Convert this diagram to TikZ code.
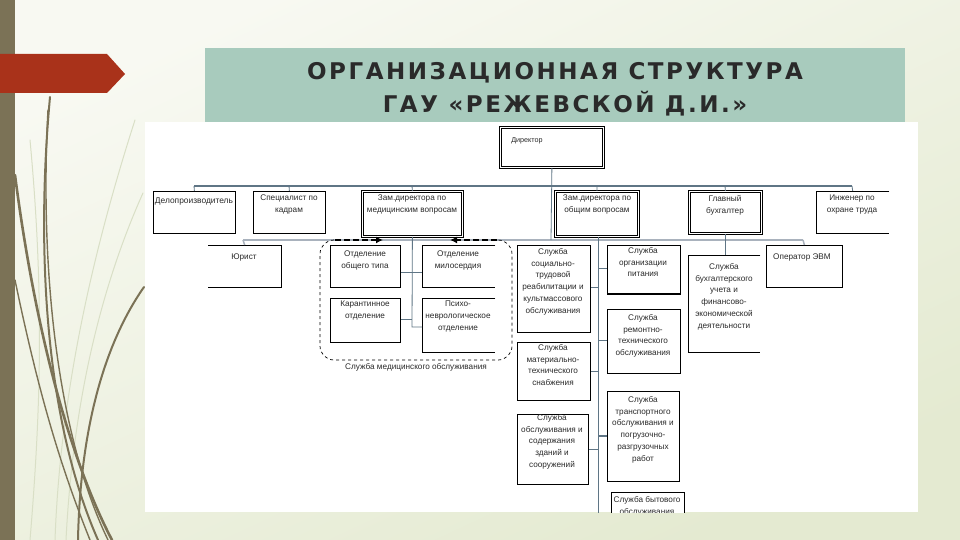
\documentclass[tikz,border=0pt]{standalone}
\usepackage{fontspec}
\setmainfont{Liberation Sans}
\newfontfamily\titlefont[LetterSpace=11]{DejaVu Sans}
\usetikzlibrary{arrows.meta}
\definecolor{bgtop}{HTML}{F8F9F2}
\definecolor{bgbot}{HTML}{E4EAD1}
\definecolor{barcol}{HTML}{7B7256}
\definecolor{redarrow}{HTML}{A9321A}
\definecolor{titlebg}{HTML}{A8CBBD}
\definecolor{busone}{HTML}{5F7585}
\definecolor{bustwo}{HTML}{A9B2BD}
\definecolor{paleline}{HTML}{D9DFC6}
\definecolor{txtcol}{HTML}{2A2A2A}
\tikzset{
  boxst/.style={draw=black, line width=0.8pt, fill=white, inner sep=0pt, anchor=north west},
  openbox/.style={fill=white, inner sep=0pt, anchor=north west},
  dblbox/.style={draw=black, double=white, double distance=1.3pt, line width=0.8pt, fill=white, inner sep=0pt, anchor=north west},
  txt/.style={font=\fontsize{8.2}{11.8}\selectfont, align=center, inner sep=0pt, text=txtcol, anchor=north},
  conn/.style={draw=busone, line width=0.8pt},
  busa/.style={draw=busone, line width=1.8pt},
  busb/.style={draw=bustwo, line width=2.6pt},
  grass/.style={draw=barcol, line width=2pt, line cap=round},
  palegrass/.style={draw=paleline, line width=1pt, line cap=round},
  ttl/.style={font=\titlefont\bfseries\fontsize{23}{26}\selectfont, text=txtcol, inner sep=0pt}
}
\begin{document}
\begin{tikzpicture}[x=1pt, y=-1pt]
\useasboundingbox (0,0) rectangle (960,540);
% background
\shade[top color=bgtop, bottom color=bgbot, shading angle=25] (0,0) rectangle (960,540);
% pale strands
\draw[palegrass] (143,193) .. controls (95,300) and (72,420) .. (66,540);
\draw[palegrass] (135,120) .. controls (90,260) and (60,400) .. (55,540);
\draw[palegrass] (30,140) .. controls (45,300) and (40,420) .. (30,540);
% left bar
\fill[barcol] (0,0) rectangle (15,540);
% dark strands
\draw[grass] (50,97) .. controls (36,250) and (45,420) .. (98,540);
\draw[grass, line width=2.6pt] (15,175) .. controls (35,330) and (70,460) .. (112,540);
\draw[grass] (144,287) .. controls (100,350) and (80,440) .. (78,540);
\draw[grass, line width=1.4pt] (15,280) .. controls (40,400) and (62,470) .. (90,540);
\draw[grass, line width=1.4pt] (48,110) .. controls (40,260) and (55,430) .. (108,540);
% red arrow
\fill[redarrow] (0,54) -- (107,54) -- (125,74) -- (107,93) -- (0,93) -- cycle;
% title box
\fill[titlebg] (205,48) rectangle (905,123);
\node[ttl] (t1) at (555,73) {ОРГАНИЗАЦИОННАЯ\hspace{0.45em}СТРУКТУРА};
\node[ttl] (t2) at (565,104) {ГАУ «РЕЖЕВСКОЙ\hspace{0.45em}Д.И.»};
% white chart area
\fill[white] (145,122) rectangle (918,512);
\begin{scope}
\clip (145,122) rectangle (918,512);
% ---------- buses ----------
\coordinate (b1l) at (194,186);
\coordinate (b1r) at (852,186);
\coordinate (b2l) at (243,240);
\coordinate (b2r) at (803,240);
\draw[busb] (b2l) -- (b2r);
\draw[busa] (b1l) -- (b1r);
% ---------- boxes ----------
\node[dblbox, minimum width=103pt, minimum height=40pt] (dir) at (500,127) {};
\node[txt, font=\fontsize{7.2}{9}\selectfont] (dirt) at (527,137) {Директор};

\node[boxst, minimum width=82pt, minimum height=42pt] (delo) at (153,191) {};
\node[txt, font=\fontsize{8.4}{11.8}\selectfont] (delot) at (194,198) {Делопроизводитель};
\node[boxst, minimum width=72pt, minimum height=42pt] (kadr) at (253,191) {};
\node[txt] (kadrt) at (289,195) {Специалист по\\кадрам};
\node[dblbox, minimum width=100pt, minimum height=45pt] (zmed) at (362,191) {};
\node[txt] (zmedt) at (412,195) {Зам.директора по\\медицинским вопросам};
\node[dblbox, minimum width=83pt, minimum height=45pt] (zob) at (555,191) {};
\node[txt] (zobt) at (597,195) {Зам.директора по\\общим вопросам};
\node[dblbox, minimum width=72pt, minimum height=42pt] (glav) at (689,191) {};
\node[txt] (glavt) at (725,195) {Главный\\бухгалтер};
\node[openbox, minimum width=73pt, minimum height=42pt] (ingh) at (816,191) {};
\draw[line width=0.8pt] (ingh.north east) -- (ingh.north west) -- (ingh.south west) -- (ingh.south east);
\node[txt] (ingt) at (852,195) {Инженер по\\охране труда};

% second row
\node[openbox, minimum width=73pt, minimum height=42pt] (yur) at (208,245) {};
\draw[line width=0.8pt] (yur.north west) -- (yur.north east) -- (yur.south east) -- (yur.south west);
\node[txt] (yurt) at (244,254) {Юрист};
\node[boxst, minimum width=76pt, minimum height=42pt] (oper) at (766,245) {};
\node[txt] (opert) at (802,254) {Оператор ЭВМ};

% medical department
\node[boxst, minimum width=70pt, minimum height=42pt] (obsh) at (330,245) {};
\node[txt] (obsht) at (365,251) {Отделение\\общего типа};
\node[openbox, minimum width=73pt, minimum height=42pt] (milo) at (422,245) {};
\draw[line width=0.8pt] (milo.north east) -- (milo.north west) -- (milo.south west) -- (milo.south east);
\node[txt] (milot) at (458,251) {Отделение\\милосердия};
\node[boxst, minimum width=70pt, minimum height=44pt] (kar) at (330,298) {};
\node[txt] (kart) at (365,301) {Карантинное\\отделение};
\node[openbox, minimum width=73pt, minimum height=54pt] (psy) at (422,298) {};
\draw[line width=0.8pt] (psy.north east) -- (psy.north west) -- (psy.south west) -- (psy.south east);
\node[txt] (psyt) at (458,301) {Психо-\\неврологическое\\отделение};

% general services
\node[boxst, minimum width=73pt, minimum height=87pt] (soc) at (517,245) {};
\node[txt] (soct) at (553,248) {Служба\\социально-\\трудовой\\реабилитации и\\культмассового\\обслуживания};
\node[boxst, minimum width=73pt, minimum height=58pt] (mat) at (517,342) {};
\node[txt] (matt) at (553,344) {Служба\\материально-\\технического\\снабжения};
\node[boxst, minimum width=71pt, minimum height=70pt] (zdan) at (517,414) {};
\node[txt] (zdant) at (552,414) {Служба\\обслуживания и\\содержания\\зданий и\\сооружений};
\node[boxst, minimum width=73pt, minimum height=48pt] (pit) at (607,245) {};
\draw[line width=1.8pt] (pit.south west) -- (pit.south east);
\node[txt] (pitt) at (643,247) {Служба\\организации\\питания};
\node[boxst, minimum width=73pt, minimum height=64pt] (rem) at (607,309) {};
\node[txt] (remt) at (643,314) {Служба\\ремонтно-\\технического\\обслуживания};
\node[boxst, minimum width=72pt, minimum height=90pt] (tra) at (607,391) {};
\node[txt] (trat) at (643,396) {Служба\\транспортного\\обслуживания и\\погрузочно-\\разгрузочных\\работ};
\node[boxst, minimum width=73pt, minimum height=34pt] (byt) at (611,492) {};
\node[txt] (bytt) at (647,496) {Служба бытового\\обслуживания};

% accounting
\node[openbox, minimum width=72pt, minimum height=97pt] (buh) at (688,255) {};
\draw[line width=0.8pt] (buh.north east) -- (buh.north west) -- (buh.south west) -- (buh.south east);
\node[txt] (buht) at (724,263) {Служба\\бухгалтерского\\учета и\\финансово-\\экономической\\деятельности};

% ---------- connectors ----------
\draw[conn] (dir.south) -- (551,240);
\draw[conn] (b1l) -- (delo.north);
\draw[conn] (289,186) -- (kadr.north);
\draw[conn] (412,186) -- (zmed.north);
\draw[conn] (597,186) -- (zob.north);
\draw[conn] (725,186) -- (glav.north);
\draw[conn] (b1r) -- (ingh.north);
\draw[conn, draw=bustwo, line width=1.5pt] (b2l) -- (yur.north);
\draw[conn, draw=bustwo, line width=1.5pt] (b2r) -- (oper.north);
% medical
\coordinate (mv) at (412,327);
\draw[conn] (zmed.south) -- (mv) -- (psy.west |- mv);
\draw[conn] (obsh.east |- 0,272) -- (milo.west |- 0,272);
\draw[conn] (kar.east |- 0,319) -- (412,319);
% general
\coordinate (gv) at (598,520);
\draw[conn] (zob.south -| 598,0) -- (gv);
\draw[conn] (soc.east |- 0,287) -- (598,287);
\draw[conn] (mat.east |- 0,371) -- (598,371);
\draw[conn] (zdan.east |- 0,449) -- (598,449);
\draw[conn] (598,268) -- (pit.west |- 0,268);
\draw[conn] (598,340) -- (rem.west |- 0,340);
\draw[conn, line width=1.8pt] (598,436) -- (tra.west |- 0,436);
% accounting
\draw[conn] (glav.south) -- (buh.north -| glav.south);
% dashed medical service frame
\draw[dashed, line width=0.7pt, rounded corners=14pt] (340,240) -- (320,240) -- (320,360) -- (512,360) -- (512,240) -- (492,240);
\draw[line width=2.2pt, dash pattern=on 6pt off 3pt, -{Latex[length=7pt,width=7pt]}] (335,240) -- (383,240);
\draw[line width=2.2pt, dash pattern=on 6pt off 3pt, -{Latex[length=7pt,width=7pt]}] (497,240) -- (450,240);
\fill[white] (338,364) rectangle (494,374);
\node[txt] (medlab) at (416,363) {Служба медицинского обслуживания};
\end{scope}
\end{tikzpicture}
\end{document}
